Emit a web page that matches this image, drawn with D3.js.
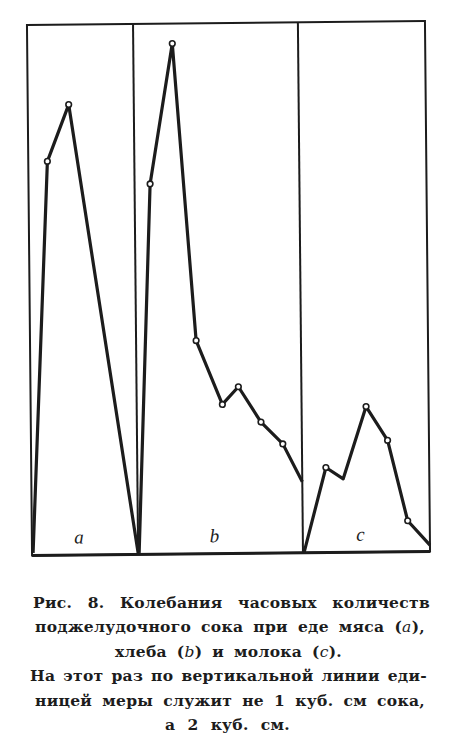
<!DOCTYPE html>
<html><head><meta charset="utf-8">
<script src="https://cdn.jsdelivr.net/npm/d3@7"></script>
<style>body{margin:0;background:#fff}</style>
</head><body><svg id="chart" width="454" height="749"></svg>
<script>
// ---- data ----
const panelLabels = ["a", "b", "c"];
const panelHours = [5.05, 7.85, 6.05];          // length of each panel, hours
const hoursA  = [0.05, 0.91, 1.95, 5.05];
const valuesA = [0.05, 7.87, 9.0, 0.03];
const markedA = [1, 2];
const hoursB  = [0.05, 0.74, 1.86, 2.86, 4.08, 4.85, 5.91, 6.94, 7.85];
const valuesB = [0.03, 7.4, 10.2, 4.26, 2.98, 3.33, 2.62, 2.18, 1.42];
const markedB = [1, 2, 3, 4, 5, 6, 7];
const hoursC  = [0.06, 1.13, 1.95, 3.07, 4.08, 5.0, 6.05];
const valuesC = [0.02, 1.70, 1.47, 2.91, 2.23, 0.62, 0.13];
const markedC = [1, 3, 4, 5];
const yMax = 10.6;
const captionLines = [
  [["Рис."], ["8."], ["Колебания"], ["часовых"], ["количеств"]],
  [["поджелудочного"], ["сока"], ["при"], ["еде"], ["мяса"], ["(", ["a", 1], "),"]],
  [["хлеба"], ["(", ["b", 1], ")"], ["и"], ["молока"], ["(", ["c", 1], ")."]],
  [["На"], ["этот"], ["раз"], ["по"], ["вертикальной"], ["линии"], ["еди-"]],
  [["ницей"], ["меры"], ["служит"], ["не"], ["1"], ["куб."], ["см"], ["сока,"]],
  [["а"], ["2"], ["куб."], ["см."]]
];

// ---- layout ----
const svg = d3.select("#chart");
const L = 29.5, R = 427.5, T = 23, B = 553.5;
const ink = "#1c1c1c";
const g = svg.append("g").attr("transform", "rotate(-0.55,228,288)");

const totalHours = d3.sum(panelHours);
const x = d3.scaleLinear().domain([0, totalHours]).range([L, R]);
const y = d3.scaleLinear().domain([0, yMax]).range([B, T]);
const starts = panelHours.map((h, i) => d3.sum(panelHours.slice(0, i)));

// frame
g.append("rect").attr("x", L).attr("y", T).attr("width", R - L).attr("height", B - T)
  .attr("fill", "none").attr("stroke", ink).attr("stroke-width", 2);
g.append("line").attr("x1", L).attr("x2", R).attr("y1", B).attr("y2", B)
  .attr("stroke", ink).attr("stroke-width", 3);
starts.slice(1).forEach(s => {
  g.append("line").attr("x1", x(s)).attr("x2", x(s)).attr("y1", T).attr("y2", B)
    .attr("stroke", ink).attr("stroke-width", 2);
});

const series = [
  {h: hoursA, v: valuesA, m: markedA},
  {h: hoursB, v: valuesB, m: markedB},
  {h: hoursC, v: valuesC, m: markedC}
];
const line = d3.line().x(d => d[0]).y(d => d[1]);
series.forEach((s, i) => {
  const pts = s.h.map((h, j) => [x(starts[i] + h), y(s.v[j])]);
  g.append("path").attr("d", line(pts)).attr("fill", "none")
    .attr("stroke", ink).attr("stroke-width", 3.2).attr("stroke-linejoin", "round");
  g.selectAll(null).data(s.m.map(j => pts[j])).enter().append("circle")
    .attr("cx", d => d[0]).attr("cy", d => d[1]).attr("r", 2.8)
    .attr("fill", "#fff").attr("stroke", ink).attr("stroke-width", 1.6);
  g.append("text").attr("x", x(starts[i] + panelHours[i] / 2) - 6).attr("y", 542)
    .attr("text-anchor", "middle").attr("font-family", "Liberation Serif")
    .attr("font-style", "italic").attr("font-size", 19).attr("fill", ink)
    .text(panelLabels[i]);
});

// caption
const lineExt = [[33, 430], [35, 425], [115, 342], [30, 427], [35, 425], [165, 290]];
const base0 = 608, lh = 24.4;
captionLines.forEach((words, li) => {
  const yy = base0 + li * lh;
  const nodes = words.map(w => {
    const t = svg.append("text").attr("y", yy).attr("font-family", "DejaVu Serif")
      .attr("font-weight", "bold").attr("font-size", 15.5).attr("letter-spacing", 0.3)
      .attr("fill", ink);
    w.forEach(seg => {
      if (Array.isArray(seg)) t.append("tspan").attr("font-style", "italic").attr("font-weight", "normal").text(seg[0]);
      else t.append("tspan").text(seg);
    });
    return t;
  });
  const widths = nodes.map(n => n.node().getComputedTextLength());
  const [x0, x1] = lineExt[li];
  const gap = (x1 - x0 - d3.sum(widths)) / Math.max(1, nodes.length - 1);
  let cx = x0;
  nodes.forEach((n, k) => { n.attr("x", cx); cx += widths[k] + gap; });
});
</script></body></html>
